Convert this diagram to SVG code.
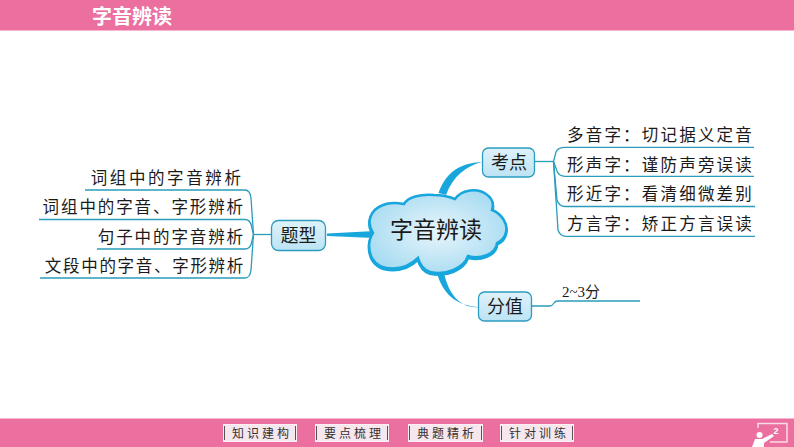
<svg xmlns="http://www.w3.org/2000/svg" width="794" height="447" viewBox="0 0 794 447">
<defs>
<radialGradient id="cg" cx="50%" cy="50%" r="55%"><stop offset="0" stop-color="#e8f5fb"/><stop offset="1" stop-color="#a9dcf2"/></radialGradient>
<linearGradient id="ng" x1="0" y1="0" x2="0" y2="1"><stop offset="0" stop-color="#dff2fa"/><stop offset="1" stop-color="#bce3f4"/></linearGradient>
<path id="cloud-shape" d="M373 233C366 222 370 210 383 205C390 202 398 203 404 204C408 197 420 194 434 195C442 195 450 197 455 199C462 189 478 188 486 194C492 198 494 204 492 210C502 214 508 224 506 232C505 238 501 241 497 243C496 254 480 260 468 256C464 268 446 276 430 272C424 270 420 265 418 258C404 272 380 272 372 258C368 250 368 240 373 233Z"/>
</defs>
<style>
.t{font-family:"Noto Sans CJK SC","Noto Sans",sans-serif;fill:#1a1a1a}
.l{font-size:16.5px;text-anchor:end}
.n{font-size:18px;text-anchor:middle}
.box{fill:url(#ng);stroke:#2b9cc0;stroke-width:1.3}
.ln{fill:none;stroke:#2a9dbb;stroke-width:1.3}
.btn{fill:#f6e6ee;stroke:#fbeff4;stroke-width:1}
.edge{fill:none;stroke:#555;stroke-width:1}
.bt{font-family:"Noto Sans CJK SC",sans-serif;font-size:12px;fill:#333;text-anchor:middle;letter-spacing:3px}
</style>
<rect width="794" height="447" fill="#fff"/>
<g id="top-bar"><rect width="794" height="30.500" fill="#ec709f"/>
<text x="132" y="23.500" font-family="Noto Sans CJK SC,sans-serif" font-size="20" font-weight="700" fill="#fff" text-anchor="middle">字音辨读</text></g>
<g id="bottom-bar"><rect y="418.500" width="794" height="28.500" fill="#ec709f"/></g>
<g id="connectors">
<path d="M438.500 193C446 172 460 163 482 162C466 166 453 176 446 195Z" fill="#18a7dc"/>
<path d="M437 273C442 292 455 306 479 307C462 309 449 296 444 273Z" fill="#18a7dc"/>
<path d="M375 231L327 233.500L327 236L375 238Z" fill="#18a7dc"/>
<path class="ln" d="M534 161.500H553.500"/>
<path class="ln" d="M553.500 161.500L556 152Q558 147.300 565 147.300H754"/>
<path class="ln" d="M553.500 161.500L557 171Q559 176.300 565 176.300H754"/>
<path class="ln" d="M553.500 161.500L557 200Q559 206.500 565 206.500H755"/>
<path class="ln" d="M553.500 161.500L558 230Q560 236.300 566 236.300H755"/>
<path class="ln" d="M272 234.500H253.500"/>
<path class="ln" d="M85 190H245Q250 190 251 198L253.500 234.500"/>
<path class="ln" d="M39 219.500H245Q250 219.500 251.500 226L253.500 234.500"/>
<path class="ln" d="M97 249H245Q250 249 251.500 243L253.500 234.500"/>
<path class="ln" d="M40 278H245Q250 278 251 270L253.500 234.500"/>
<path class="ln" d="M532 306H550Q552 306 554 303Q555 301 558 301H640"/>
</g>
<g id="cloud">
<use href="#cloud-shape" fill="#18a7dc" stroke="#18a7dc" stroke-width="3" transform="translate(0 1.500)"/>
<use href="#cloud-shape" fill="url(#cg)" stroke="#18a7dc" stroke-width="2.500"/>
<text class="t" x="436" y="238" font-size="23" text-anchor="middle">字音辨读</text>
</g>
<g id="node-kaodian"><rect class="box" x="482.500" y="148" width="52" height="29" rx="6"/><text class="t n" x="509" y="169">考点</text></g>
<g id="node-tixing"><rect class="box" x="271.500" y="220.500" width="54" height="30" rx="7"/><text class="t n" x="298.500" y="242">题型</text></g>
<g id="node-fenzhi"><rect class="box" x="478.500" y="292" width="53" height="29" rx="6"/><text class="t n" x="505" y="313">分值</text></g>
<g id="labels">
<text class="t l" x="243.500" y="184" letter-spacing="2.600">词组中的字音辨析</text>
<text class="t l" x="245" y="213" letter-spacing="1.900">词组中的字音、字形辨析</text>
<text class="t l" x="245" y="243" letter-spacing="1.900">句子中的字音辨析</text>
<text class="t l" x="245" y="272" letter-spacing="1.700">文段中的字音、字形辨析</text>
<text class="t l" x="754" y="141" letter-spacing="2.200">多音字：切记据义定音</text>
<text class="t l" x="754" y="171" letter-spacing="2.200">形声字：谨防声旁误读</text>
<text class="t l" x="754" y="200" letter-spacing="2.200">形近字：看清细微差别</text>
<text class="t l" x="754" y="230" letter-spacing="2.200">方言字：矫正方言误读</text>
<text x="562" y="297" font-size="15" style="font-family:'Liberation Serif','Noto Sans CJK SC',serif" fill="#1a1a1a">2~3分</text>
</g>
<g id="nav">
<g id="btn-1"><rect class="btn" x="223.500" y="424.500" width="73" height="17"/><path class="edge" d="M224.500 426V440M295.500 426V440"/><text class="bt" x="262" y="437.500">知识建构</text></g>
<g id="btn-2"><rect class="btn" x="315.500" y="424.500" width="73" height="17"/><path class="edge" d="M316.500 426V440M387.500 426V440"/><text class="bt" x="354" y="437.500">要点梳理</text></g>
<g id="btn-3"><rect class="btn" x="408.500" y="424.500" width="74" height="17"/><path class="edge" d="M409.500 426V440M481.500 426V440"/><text class="bt" x="447" y="437.500">典题精析</text></g>
<g id="btn-4"><rect class="btn" x="500.500" y="424.500" width="73" height="17"/><path class="edge" d="M501.500 426V440M572.500 426V440"/><text class="bt" x="539" y="437.500">针对训练</text></g>
</g>
<g id="page-icon">
<path d="M758 428V423.500H787V442H770" fill="none" stroke="#f8dbe7" stroke-width="1.500"/>
<circle cx="759.500" cy="435" r="3" fill="#fff"/>
<path d="M752 447L755 439H762L772 434L774 436L764 443V447Z" fill="#fff"/>
<text x="776" y="434" font-family="Liberation Sans" font-size="9" font-weight="700" fill="#fff" text-anchor="middle">2</text>
</g>
</svg>
